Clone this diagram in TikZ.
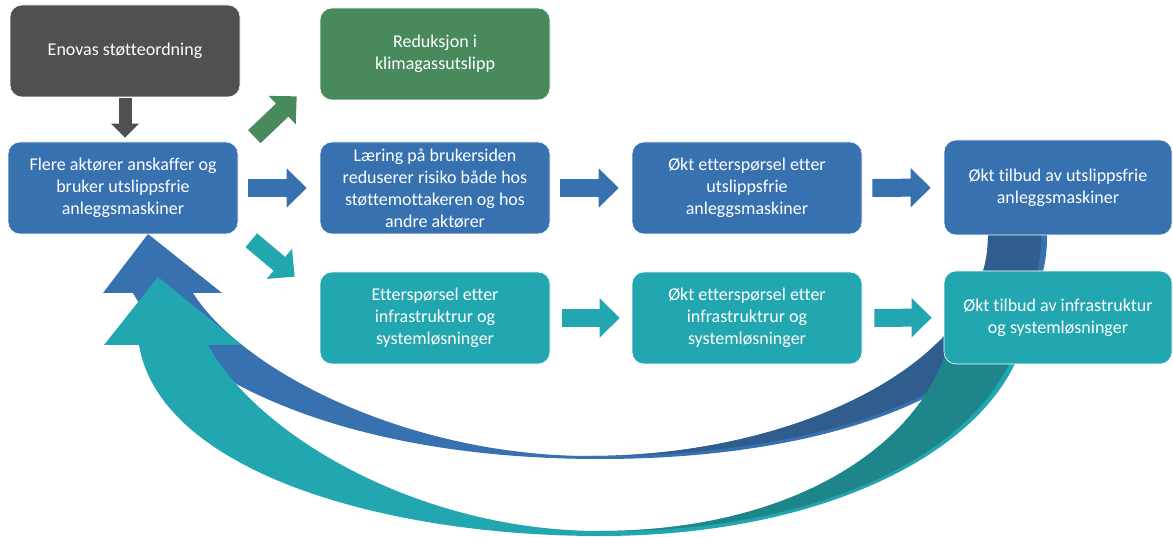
\documentclass[tikz,border=0pt]{standalone}
\usepackage{fontspec}
\setmainfont{Carlito}[Ligatures={NoCommon,NoContextual}]
\usepackage{tikz}
\usetikzlibrary{arrows.meta,calc}
\definecolor{enovagray}{HTML}{505050}
\definecolor{klimagreen}{HTML}{488A5C}
\definecolor{maskinblue}{HTML}{3771B0}
\definecolor{maskinbluedark}{HTML}{2E5D8E}
\definecolor{infrateal}{HTML}{22A6AF}
\definecolor{infratealdark}{HTML}{1E858A}
\newcommand{\boxfont}{\fontsize{18pt}{22pt}\selectfont}

\begin{document}
\begin{tikzpicture}[x=1pt,y=-1pt,
  box/.style={rectangle,rounded corners=12pt,minimum width=230pt,minimum height=92pt,
    align=center,text=white,font=\boxfont,draw=white,line width=0.6pt},
  flow/.style={line width=18pt,-{Triangle[length=20pt,width=38pt]},
    shorten <=10pt,shorten >=13pt}]
  \fill[white] (0,0) rectangle (1173,537);
  \useasboundingbox (0,0) rectangle (1173,537);

  % feedback arrows
  \fill[maskinblue] (103,293) -- (148,234) -- (222,293) -- (193,293)
    .. controls (243,372) and (410,456) .. (590,456)
    .. controls (800,456) and (988,360) .. (988,237) -- (988,225) -- (1047,225) -- (1047,237)
    .. controls (1047,380) and (850,459) .. (600,459)
    .. controls (330,459) and (175,370) .. (133,293) -- cycle;
  \fill[maskinbluedark] (590,456)
    .. controls (800,456) and (988,360) .. (988,237) -- (988,225) -- (1041,225) -- (1041,237)
    .. controls (1041,378) and (850,457) .. (590,456) -- cycle;
  \fill[infrateal] (104,345) -- (158,277) -- (242,345) -- (208,345)
    .. controls (258,436) and (420,531) .. (600,531)
    .. controls (820,531) and (955,420) .. (955,300) -- (955,290) -- (1030,290) -- (1030,300)
    .. controls (1030,430) and (850,536) .. (600,536)
    .. controls (380,536) and (160,470) .. (139,345) -- cycle;
  \fill[infratealdark] (600,531)
    .. controls (820,531) and (955,420) .. (955,300) -- (955,290) -- (1024,290) -- (1024,300)
    .. controls (1024,428) and (850,534) .. (600,531) -- cycle;

  \node[box,fill=enovagray]   (enova)      at (125,51)  {Enovas støtteordning};
  \node[box,fill=klimagreen]  (reduksjon)  at (435,54)  {Reduksjon i\\klimagassutslipp};
  \node[box,fill=maskinblue]  (flere)      at (123,188) {Flere aktører anskaffer og\\bruker utslippsfrie\\anleggsmaskiner};
  \node[box,fill=maskinblue]  (laering)    at (435,188) {Læring på brukersiden\\reduserer risiko både hos\\støttemottakeren og hos\\andre aktører};
  \node[box,fill=maskinblue]  (etterUt)    at (747,188) {Økt etterspørsel etter\\utslippsfrie\\anleggsmaskiner};
  \node[box,fill=maskinblue,minimum width=228pt,minimum height=95pt] (tilbudUt) at (1058,187.5) {Økt tilbud av utslippsfrie\\anleggsmaskiner};
  \node[box,fill=infrateal]   (etterInfra) at (435,318) {Etterspørsel etter\\infrastruktrur og\\systemløsninger};
  \node[box,fill=infrateal]   (oktInfra)   at (747,318) {Økt etterspørsel etter\\infrastruktrur og\\systemløsninger};
  \node[box,fill=infrateal,minimum width=228pt,minimum height=93pt] (tilbudInfra) at (1058,317.5) {Økt tilbud av infrastruktur\\og systemløsninger};

  \draw[line width=13pt,-{Triangle[length=14pt,width=27pt]},enovagray,shorten <=1pt,shorten >=4pt]
    (enova) -- (enova |- flere.north);
  \draw[flow,klimagreen,shorten <=0pt,shorten >=0pt]
    ($(flere.north east)+(16,-5)$) -- ($(reduksjon.south west)+(-23,-4)$);
  \draw[flow,infrateal,shorten <=0pt,shorten >=0pt]
    ($(flere.south east)+(13,6)$) -- ($(etterInfra.north west)+(-25,5)$);
  \draw[flow,maskinblue] (flere) -- (laering);
  \draw[flow,maskinblue] (laering) -- (etterUt);
  \draw[flow,maskinblue] (etterUt) -- (tilbudUt);
  \draw[flow,infrateal,shorten <=12pt,shorten >=12pt] (etterInfra) -- (oktInfra);
  \draw[flow,infrateal,shorten <=12pt,shorten >=12pt] (oktInfra) -- (tilbudInfra);
\end{tikzpicture}
\end{document}
